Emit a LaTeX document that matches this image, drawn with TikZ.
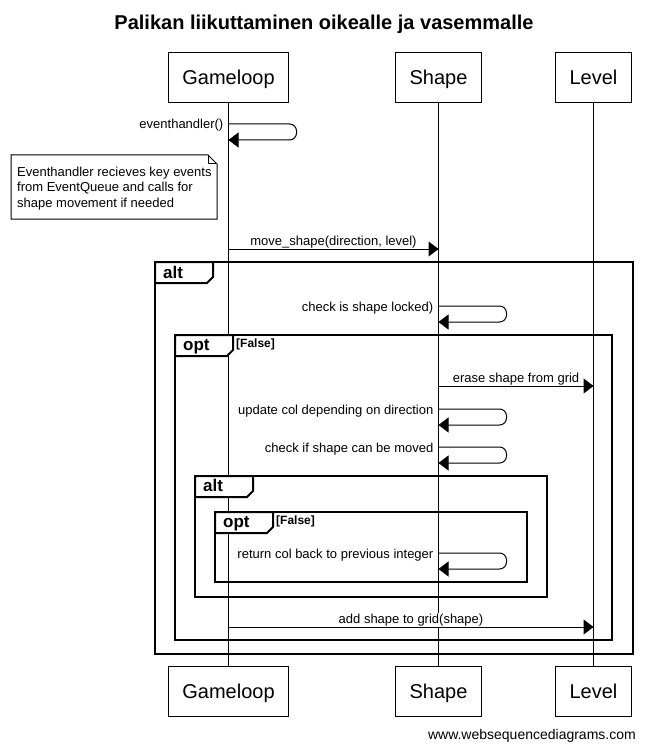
\documentclass[tikz,border=0pt]{standalone}
\usepackage{fontspec}
\setmainfont{Liberation Sans}
\usetikzlibrary{arrows.meta}
\tikzset{
  actor/.style={draw, line width=1pt, minimum height=50pt, inner xsep=14pt, inner ysep=2pt,
    text height=14pt, text depth=0pt, font=\fontsize{20}{24}\selectfont},
  lifeline/.style={line width=1pt},
  msg/.style={line width=1pt, -{Triangle[length=10pt,width=15pt]}},
  selfmsg/.style={msg, rounded corners=7pt},
  lbl/.style={font=\fontsize{13}{15}\selectfont, fill=white, inner sep=1pt},
  slbl/.style={lbl, anchor=base east},
  mlbl/.style={lbl, anchor=base},
  framebox/.style={line width=2pt},
  tabbox/.style={line width=2pt, fill=white, line join=miter},
  frlabel/.style={font=\fontsize{17}{20}\selectfont\bfseries, anchor=base west, inner sep=0pt},
  condlabel/.style={font=\fontsize{12}{14}\selectfont\bfseries, anchor=base west, inner sep=0pt},
  notebox/.style={line width=1pt, fill=white, line join=miter},
}
\begin{document}
\begin{tikzpicture}[x=1pt, y=-1pt]
\useasboundingbox (0,0) rectangle (646,751);

% title
\node[font=\fontsize{20}{24}\selectfont\bfseries, anchor=base, inner sep=0pt] (title) at (324,30) {Palikan liikuttaminen oikealle ja vasemmalle};

% actors
\node[actor] (G) at (228.5,77.5) {Gameloop};
\node[actor] (S) at (438.5,77.5) {Shape};
\node[actor] (L) at (593.5,77.5) {Level};
\node[actor] (Gb) at (228.5,691.5) {Gameloop};
\node[actor] (Sb) at (438.5,691.5) {Shape};
\node[actor] (Lb) at (593.5,691.5) {Level};

% lifelines
\draw[lifeline] (G) -- (Gb);
\draw[lifeline] (S) -- (Sb);
\draw[lifeline] (L) -- (Lb);

% frames
% outer alt
\draw[framebox] (155,262) rectangle (633,654);
\draw[tabbox] (155,262) -- (213,262) -- (213,277) -- (207,283) -- (155,283) -- cycle;
\node[frlabel] (f1) at (163,278) {alt};
% opt
\draw[framebox] (175,335) rectangle (612,640);
\draw[tabbox] (175,335) -- (233,335) -- (233,350) -- (227,356) -- (175,356) -- cycle;
\node[frlabel] (f2) at (183,350.5) {opt};
\node[condlabel] (c2) at (236,347) {[False]};
% inner alt
\draw[framebox] (195,476) rectangle (547,597);
\draw[tabbox] (195,476) -- (253,476) -- (253,491) -- (247,497) -- (195,497) -- cycle;
\node[frlabel] (f3) at (203,491.5) {alt};
% inner opt
\draw[framebox] (215,512) rectangle (527,582);
\draw[tabbox] (215,512) -- (273,512) -- (273,527) -- (267,533) -- (215,533) -- cycle;
\node[frlabel] (f4) at (223,527.5) {opt};
\node[condlabel] (c4) at (276,524) {[False]};

% note
\draw[notebox] (11,155) -- (208,155) -- (217,164) -- (217,219) -- (11,219) -- cycle;
\draw[line width=1pt, line join=miter] (208,155) -- (208,164) -- (217,164);
\node[font=\fontsize{13}{15.5}\selectfont, align=left, anchor=north west, inner sep=0pt] (note) at (17,166.8)
  {Eventhandler recieves key events\\from EventQueue and calls for\\shape movement if needed};

% message coordinates
\coordinate (e1a) at (G.south |- 0,124);
\coordinate (e1b) at (G.south |- 0,140);
\coordinate (m2a) at (G.south |- 0,249);
\coordinate (m2b) at (S.south |- 0,249);
\coordinate (s3a) at (S.south |- 0,306);
\coordinate (s3b) at (S.south |- 0,322);
\coordinate (m4a) at (S.south |- 0,386);
\coordinate (m4b) at (L.south |- 0,386);
\coordinate (s5a) at (S.south |- 0,409);
\coordinate (s5b) at (S.south |- 0,425);
\coordinate (s6a) at (S.south |- 0,447);
\coordinate (s6b) at (S.south |- 0,463);
\coordinate (s7a) at (S.south |- 0,553);
\coordinate (s7b) at (S.south |- 0,569);
\coordinate (m8a) at (G.south |- 0,627);
\coordinate (m8b) at (L.south |- 0,627);

% labels
\node[slbl] (t1) at (224.5,129) {eventhandler()};
\node[mlbl] (t2) at (333.5,245) {move\_shape(direction, level)};
\node[slbl] (t3) at (434.5,311) {check is shape locked)};
\node[mlbl] (t4) at (516,382) {erase shape from grid};
\node[slbl] (t5) at (434.5,414) {update col depending on direction};
\node[slbl] (t6) at (434.5,452) {check if shape can be moved};
\node[slbl] (t7) at (434.5,558) {return col back to previous integer};
\node[mlbl] (t8) at (411,623) {add shape to grid(shape)};

% arrows
\draw[selfmsg] (e1a) -- ++(68,0) -- ++(0,16) -- (e1b);
\draw[msg] (m2a) -- (m2b);
\draw[selfmsg] (s3a) -- ++(68,0) -- ++(0,16) -- (s3b);
\draw[msg] (m4a) -- (m4b);
\draw[selfmsg] (s5a) -- ++(68,0) -- ++(0,16) -- (s5b);
\draw[selfmsg] (s6a) -- ++(68,0) -- ++(0,16) -- (s6b);
\draw[selfmsg] (s7a) -- ++(68,0) -- ++(0,16) -- (s7b);
\draw[msg] (m8a) -- (m8b);

% footer
\node[font=\fontsize{14}{16}\selectfont, anchor=base east, inner sep=0pt] (footer) at (636,739) {www.websequencediagrams.com};
\end{tikzpicture}
\end{document}
